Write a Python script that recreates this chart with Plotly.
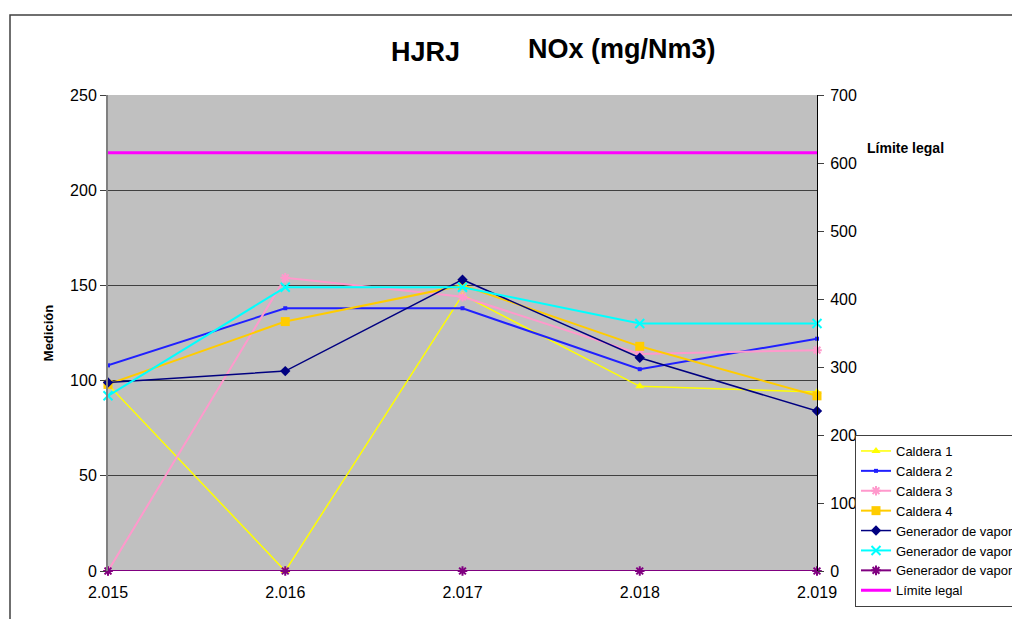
import plotly.graph_objects as go

years = ["2.015", "2.016", "2.017", "2.018", "2.019"]
caldera1 = [98, 0, 145, 97, 94]
caldera2 = [108, 138, 138, 106, 122]
caldera3 = [0, 154, 144, 114, 116]
caldera4 = [98, 131, 150, 118, 92]
generador1 = [99, 105, 153, 112, 84]
generador2 = [92, 149, 149, 130, 130]
generador3 = [0, 0, 0, 0, 0]
limite_legal = [615, 615, 615, 615, 615]

FONT = "Liberation Sans, Arial, sans-serif"

# page has an 8px body margin; plot area in page pixels: x 108..817, y 95..571
PL, PR, PT, PB = 108, 817, 95, 571
OFF = 8
W, H = 1020 - OFF, 619 - OFF


def px2paper(px, py):
    return (px - PL) / (PR - PL), (PB - py) / (PB - PT)


fig = go.Figure()

series = [
    ("Caldera 1", caldera1, "#FFFF00", "triangle-up", 8, 1.5),
    ("Caldera 2", caldera2, "#2020FF", "square", 4, 2),
    ("Caldera 3", caldera3, "#FF99CC", "asterisk-open", 8, 2),
    ("Caldera 4", caldera4, "#FFCC00", "square", 9, 2),
    ("Generador de vapor 1", generador1, "#000080", "diamond", 8, 1.5),
    ("Generador de vapor 2", generador2, "#00FFFF", "x-thin-open", 9, 2),
    ("Generador de vapor 3", generador3, "#800080", "asterisk-open", 8, 2),
]
for name, vals, color, sym, size, w in series:
    fig.add_trace(go.Scatter(
        x=years, y=vals, name=name, mode="lines+markers", cliponaxis=False,
        line=dict(color=color, width=w),
        marker=dict(symbol=sym, size=size, color=color,
                    line=dict(color=color, width=2 if "open" in sym else 0)),
    ))

fig.add_trace(go.Scatter(
    x=years, y=limite_legal, name="Límite legal", mode="lines",
    line=dict(color="#FF00FF", width=3), yaxis="y2",
))

lx, ly = px2paper(855, 435)
ann = []
for text, px, py, size in [("<b>HJRJ</b>", 425, 52, 27),
                           ("<b>NOx (mg/Nm3)</b>", 622, 49, 27),
                           ("<b>Límite legal</b>", 905, 148, 14)]:
    ax_, ay_ = px2paper(px, py)
    ann.append(dict(text=text, x=ax_, y=ay_, xref="paper", yref="paper",
                    xanchor="center", yanchor="middle",
                    showarrow=False, font=dict(size=size)))

fig.update_layout(
    width=W, height=H,
    margin=dict(l=PL - OFF, r=W - (PR - OFF), t=PT - OFF, b=H - (PB - OFF), autoexpand=False),
    paper_bgcolor="white",
    plot_bgcolor="#C0C0C0",
    font=dict(family=FONT, color="black", size=16),
    showlegend=True,
    xaxis=dict(
        type="category", range=[0, 4], showgrid=False, zeroline=False,
        showline=False, ticks="", tickfont=dict(size=16), ticklabelstandoff=10,
    ),
    yaxis=dict(
        range=[0, 250], dtick=50, showgrid=True, gridcolor="#404040", gridwidth=1,
        zeroline=False, showline=True, linecolor="#808080", linewidth=2,
        ticks="outside", ticklen=6, tickcolor="#404040",
        tickfont=dict(size=16),
        title=dict(text="<b>Medición</b>", font=dict(size=13), standoff=14),
    ),
    yaxis2=dict(
        range=[0, 700], dtick=100, overlaying="y", side="right",
        showgrid=False, zeroline=False, showline=True, linecolor="black", linewidth=1,
        ticks="outside", ticklen=6, tickcolor="#404040",
        tickfont=dict(size=16), ticklabelstandoff=3,
    ),
    legend=dict(
        x=lx, y=ly, xanchor="left", yanchor="top",
        bgcolor="white", bordercolor="#404040", borderwidth=1,
        font=dict(size=13, family=FONT), tracegroupgap=0, itemwidth=30,
    ),
    annotations=ann,
)

bx0, by1 = px2paper(10, 15)
bx1, by0 = px2paper(1100, 700)
fig.add_shape(type="rect", xref="paper", yref="paper",
              x0=bx0, x1=bx1, y0=by0, y1=by1,
              line=dict(color="#404040", width=1.5), fillcolor="rgba(0,0,0,0)", layer="above")

fig.write_html("out.html")
